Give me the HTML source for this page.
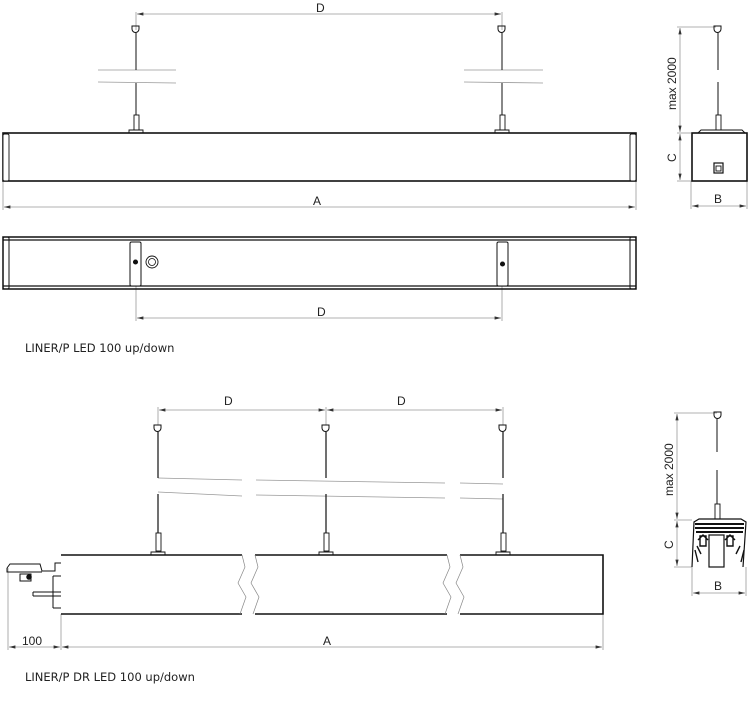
<!DOCTYPE html>
<html><head><style>body{margin:0;background:#fff}svg{display:block}text{font-family:"Liberation Sans",sans-serif;fill:#222}</style></head><body>
<svg width="750" height="706" viewBox="0 0 750 706" xmlns="http://www.w3.org/2000/svg">
<defs><marker id="a" markerWidth="8" markerHeight="6" refX="8" refY="3" orient="auto-start-reverse"><path d="M0,1 L8,3 L0,5Z" fill="#333"/></marker></defs>
<g stroke="#999" stroke-width="0.8" fill="none">
<line x1="136" y1="12" x2="136" y2="30"/><line x1="502" y1="12" x2="502" y2="30"/>
<line x1="137" y1="14" x2="501" y2="14" marker-start="url(#a)" marker-end="url(#a)"/>
<line x1="3" y1="181" x2="3" y2="210"/><line x1="636" y1="181" x2="636" y2="210"/>
<line x1="4" y1="207" x2="635" y2="207" marker-start="url(#a)" marker-end="url(#a)"/>
<line x1="136" y1="286" x2="136" y2="321"/><line x1="502" y1="286" x2="502" y2="321"/>
<line x1="137" y1="318" x2="501" y2="318" marker-start="url(#a)" marker-end="url(#a)"/>
<line x1="98" y1="70" x2="176" y2="70"/><line x1="98" y1="82" x2="176" y2="83"/>
<line x1="464" y1="70" x2="543" y2="70"/><line x1="464" y1="82" x2="543" y2="83"/>
<line x1="677" y1="27" x2="716" y2="27"/><line x1="677" y1="181" x2="691" y2="181"/><line x1="677" y1="133" x2="691" y2="133"/>
<line x1="680" y1="28" x2="680" y2="132" marker-start="url(#a)" marker-end="url(#a)"/>
<line x1="680" y1="134" x2="680" y2="180" marker-start="url(#a)" marker-end="url(#a)"/>
<line x1="691" y1="181" x2="691" y2="209"/><line x1="747" y1="181" x2="747" y2="209"/>
<line x1="692" y1="206" x2="746" y2="206" marker-start="url(#a)" marker-end="url(#a)"/>
<line x1="158" y1="407" x2="158" y2="425"/><line x1="326" y1="407" x2="326" y2="425"/><line x1="503" y1="407" x2="503" y2="425"/>
<line x1="159" y1="410" x2="325" y2="410" marker-start="url(#a)" marker-end="url(#a)"/>
<line x1="327" y1="410" x2="502" y2="410" marker-start="url(#a)" marker-end="url(#a)"/>
<path d="M158,478 L242,480 M256,480 L445,483 M460,483 L503,484"/>
<path d="M158,492 L242,496 M256,495 L445,498 M460,498 L503,499"/>
<line x1="8" y1="568" x2="8" y2="650"/><line x1="61" y1="614" x2="61" y2="650"/><line x1="603" y1="614" x2="603" y2="650"/>
<line x1="9" y1="647" x2="60" y2="647" marker-start="url(#a)" marker-end="url(#a)"/>
<line x1="62" y1="647" x2="602" y2="647" marker-start="url(#a)" marker-end="url(#a)"/>
<line x1="674" y1="413" x2="717" y2="413"/><line x1="674" y1="520" x2="692" y2="520"/><line x1="674" y1="567" x2="692" y2="567"/>
<line x1="677" y1="414" x2="677" y2="519" marker-start="url(#a)" marker-end="url(#a)"/>
<line x1="677" y1="521" x2="677" y2="566" marker-start="url(#a)" marker-end="url(#a)"/>
<line x1="692" y1="567" x2="692" y2="596"/><line x1="746" y1="567" x2="746" y2="596"/>
<line x1="693" y1="593" x2="745" y2="593" marker-start="url(#a)" marker-end="url(#a)"/>
</g>
<g stroke="#111" fill="none" stroke-width="1.5">
<rect x="3" y="133" width="633" height="48" stroke-width="1.6"/>
<rect x="3" y="134" width="6" height="47" rx="1.5" fill="#fff" stroke-width="0.9"/>
<rect x="630" y="134" width="6" height="47" rx="1.5" fill="#fff" stroke-width="0.9"/>
<g id="s1"><path d="M132,26 h7 v3 a3.5,3.5 0 0 1 -7,0z" stroke-width="1"/><line x1="136" y1="33" x2="136" y2="70" stroke-width="1"/><line x1="136" y1="83" x2="136" y2="115" stroke-width="1"/><rect x="134" y="115" width="5" height="15" stroke-width="0.9"/><path d="M129,133 v-3 h14 v3" stroke-width="0.9"/></g>
<use href="#s1" x="366"/>
<rect x="3" y="237" width="633" height="52" stroke-width="1.5"/>
<line x1="3" y1="240" x2="636" y2="240" stroke-width="1.3"/><line x1="3" y1="286" x2="636" y2="286" stroke-width="1.3"/>
<rect x="3" y="237" width="6" height="52" rx="1.5" stroke-width="1"/>
<rect x="630" y="237" width="6" height="52" rx="1.5" stroke-width="1"/>
<rect x="130" y="242" width="11" height="44" rx="1.5" fill="#fff" stroke-width="1"/><circle cx="135.5" cy="262" r="1.8" fill="#111"/>
<circle cx="152" cy="262" r="6" stroke-width="0.9"/><circle cx="152" cy="262" r="3.5" stroke-width="0.8"/>
<rect x="497" y="242" width="11" height="44" rx="1.5" fill="#fff" stroke-width="1"/><circle cx="502.5" cy="264" r="1.8" fill="#111"/>
<path d="M714,26 h7 v3 a3.5,3.5 0 0 1 -7,0z" stroke-width="1"/>
<line x1="718" y1="33" x2="718" y2="70" stroke-width="1"/><line x1="718" y1="82" x2="718" y2="115" stroke-width="1"/>
<rect x="716" y="115" width="5" height="15" stroke-width="0.9"/>
<path d="M698,133 L701,130 H742 L745,133" stroke-width="1"/>
<rect x="692" y="133" width="55" height="48" stroke-width="1.6"/>
<rect x="714" y="163" width="9" height="10" stroke-width="1.2"/><rect x="716" y="166" width="5" height="5" stroke-width="0.9"/>
<path d="M61,555 H242 M255,555 H447 M460,555 H603 V614 H460 M447,614 H255 M242,614 H61 Z" stroke-width="1.6"/>
<path d="M242,555 L245,567 L238,583 L246,597 L240,614 M255,555 L258,567 L251,583 L259,597 L253,614" stroke="#888" stroke-width="0.7"/>
<path d="M447,555 L450,567 L443,583 L451,597 L445,614 M460,555 L463,567 L456,583 L464,597 L458,614" stroke="#888" stroke-width="0.7"/>
<g id="s2"><path d="M154,425 h7 v3 a3.5,3.5 0 0 1 -7,0z" stroke-width="1"/><line x1="158" y1="432" x2="158" y2="478" stroke-width="1.2"/><line x1="158" y1="494" x2="158" y2="533" stroke-width="1.2"/><rect x="156" y="533" width="5" height="18" stroke-width="0.9"/><path d="M151,555 v-3 h14 v3" stroke-width="0.9"/></g>
<use href="#s2" x="168"/><use href="#s2" x="345"/>
<path d="M7,568 L10,564 H40 L42,571 H55 V563 H61" stroke-width="1"/>
<path d="M7,568 V572 H42" stroke-width="1"/>
<rect x="20" y="574" width="11" height="7" stroke-width="1"/><circle cx="29" cy="577" r="2" fill="#111"/>
<path d="M33,592 H61 M33,596 H61 M33,592 V596 M53,576 V608 M53,576 H61 M53,608 H61" stroke-width="1"/>
<path d="M714,412 h7 v3 a3.5,3.5 0 0 1 -7,0z" stroke-width="1"/>
<line x1="717" y1="419" x2="717" y2="452" stroke-width="1"/><line x1="717" y1="470" x2="717" y2="504" stroke-width="1"/>
<rect x="715" y="504" width="5" height="15" stroke-width="0.9"/>
<path d="M692,567 L694,522 L699,519 H741 L746,522 L743,567" stroke-width="1.2"/>
<rect x="709" y="535" width="15" height="32" fill="#fff" stroke-width="1.2"/>
<path d="M695,524 H744 M695,528 H744 M696,532 H743" stroke-width="2"/>
<path d="M698,540 l5,-5 l5,5 M725,540 l5,-5 l5,5 M697,546 l4,8 M740,546 l-4,8 M695,550 l3,12 M744,550 l-3,12 M700,536 h6 v10 h-6z M727,536 h6 v10 h-6z" stroke-width="1.4"/>
</g>
<g font-size="12">
<text x="316" y="12">D</text><text x="313" y="205">A</text><text x="317" y="316">D</text>
<text x="224" y="405">D</text><text x="397" y="405">D</text><text x="323" y="645">A</text><text x="22" y="645">100</text>
<text x="714" y="203">B</text><text x="714" y="590">B</text>
<text transform="translate(676,110) rotate(-90)">max 2000</text>
<text transform="translate(676,162) rotate(-90)">C</text>
<text transform="translate(673,496) rotate(-90)">max 2000</text>
<text transform="translate(673,549) rotate(-90)">C</text>
</g>
<text x="25" y="352" style="font-family:'DejaVu Sans',sans-serif" font-size="11.5">LINER/P LED 100 up/down</text>
<text x="25" y="681" style="font-family:'DejaVu Sans',sans-serif" font-size="11.5">LINER/P DR LED 100 up/down</text>
</svg>
</body></html>
